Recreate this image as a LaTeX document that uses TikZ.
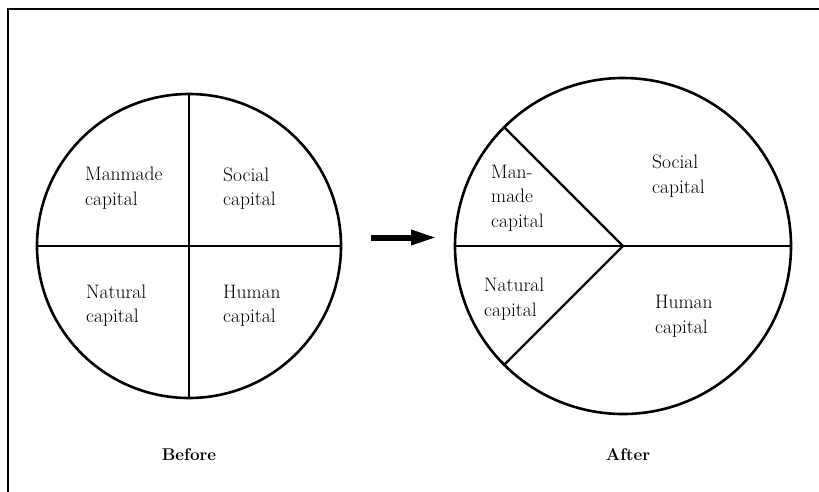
\documentclass[tikz,border=0pt]{standalone}
\usetikzlibrary{arrows.meta}
\begin{document}
\begin{tikzpicture}[x=1pt,y=-1pt,
  pie/.style={circle,draw,line width=2.6pt,inner sep=0pt},
  divider/.style={line width=2.4pt},
  lbl/.style={anchor=west,align=left,inner sep=0pt,font=\fontsize{19.5}{24.5}\selectfont},
  caption/.style={anchor=base,inner sep=0pt,font=\fontsize{17}{20}\selectfont\bfseries},
  frame/.style={line width=2.2pt}]
\useasboundingbox (0,0) rectangle (819,491);

% frame (top and left edges)
\coordinate (ftr) at (822,9);
\coordinate (ftl) at (8,9);
\coordinate (fbl) at (8,494);
\draw[frame] (ftr) -- (ftl) -- (fbl);

% before: four equal quarters
\node[pie,minimum size=304pt] (L) at (189,246) {};
\draw[divider] (L.north) -- (L.south);
\draw[divider] (L.west) -- (L.east);

\node[lbl] (lman) at (85,188) {Manmade\\capital};
\node[lbl] (lsoc) at (223,188.5) {Social\\capital};
\node[lbl] (lnat) at (86,305.5) {Natural\\capital};
\node[lbl] (lhum) at (223,305.5) {Human\\capital};

% after: social and human capital grow
\node[pie,minimum size=336pt] (R) at (623,246) {};
\draw[divider] (R.west) -- (R.east);
\draw[divider] (R.center) -- (R.135);
\draw[divider] (R.center) -- (R.225);

\node[lbl] (rman) at (491,198) {Man-\\made\\capital};
\node[lbl] (rsoc) at (652,176) {Social\\capital};
\node[lbl] (rnat) at (484,299) {Natural\\capital};
\node[lbl] (rhum) at (655,316) {Human\\capital};

% transition arrow
\coordinate (atail) at (371,237.5);
\coordinate (ahead) at (437,237.5);
\draw[line width=6pt,-{Triangle[length=26pt,width=14pt]}] (atail) -- (ahead);

% captions
\node[caption] (before) at (189,460) {Before};
\node[caption] (after) at (628,460) {After};
\end{tikzpicture}
\end{document}
